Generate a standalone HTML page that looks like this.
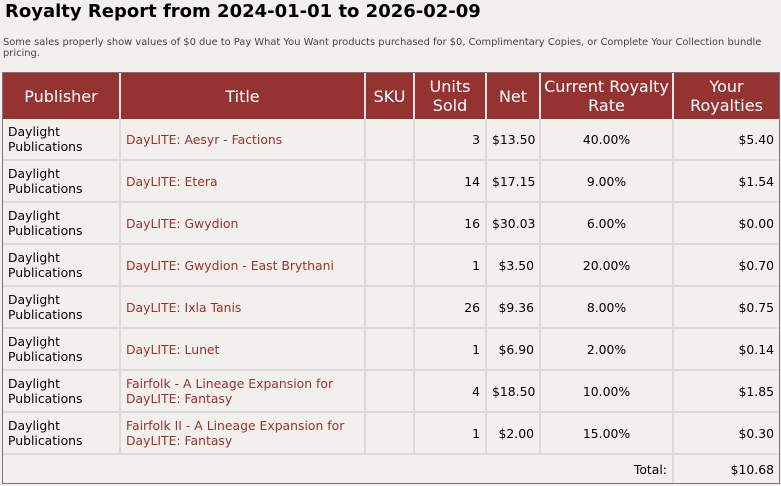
<!DOCTYPE html>
<html><head><meta charset="utf-8"><style>
body{margin:0;background:#f2f0ec;width:781px;height:486px;overflow:hidden;font-family:"DejaVu Sans","Liberation Sans",sans-serif;color:#000}
h1{position:absolute;left:5px;top:0;margin:0;font-size:18px;font-weight:bold;line-height:24px}
.note{position:absolute;left:3px;top:37px;font-size:9.9px;line-height:11px;color:#444;width:780px}
.wrap{position:absolute;left:2px;top:72px;width:776px;height:410px;border:1px solid #777;overflow:hidden}
table{border-collapse:separate;border-spacing:0;table-layout:fixed;width:776px}
td,th{padding:0 5px;border-right:2px solid #dcdad6;border-bottom:2px solid #dcdad6;font-size:12.4px;box-sizing:border-box}
th{background:#953333;color:#fff;font-weight:normal;font-size:16px;line-height:19px;height:46px;border-right:2px solid #e8e4e0;border-bottom:none;text-align:center;padding:0 2px}
td{height:42px;line-height:15px}
td.r{text-align:right}td.c{text-align:center}
td a{color:#9a3030;text-decoration:none}
tr td:last-child,tr th:last-child{border-right:none}
</style></head><body>
<h1>Royalty Report from 2024-01-01 to 2026-02-09</h1>
<div class="note">Some sales properly show values of $0 due to Pay What You Want products purchased for $0, Complimentary Copies, or Complete Your Collection bundle<br>pricing.</div>
<div class="wrap"><table>
<colgroup><col style="width:118px"><col style="width:245px"><col style="width:49px"><col style="width:72px"><col style="width:54px"><col style="width:133px"><col style="width:105px"></colgroup>
<tr><th>Publisher</th><th>Title</th><th>SKU</th><th>Units<br>Sold</th><th>Net</th><th>Current Royalty<br>Rate</th><th>Your<br>Royalties</th></tr>
<tr><td>Daylight<br>Publications</td><td><a>DayLITE: Aesyr - Factions</a></td><td></td><td class="r">3</td><td class="r">$13.50</td><td class="c">40.00%</td><td class="r">$5.40</td></tr>
<tr><td>Daylight<br>Publications</td><td><a>DayLITE: Etera</a></td><td></td><td class="r">14</td><td class="r">$17.15</td><td class="c">9.00%</td><td class="r">$1.54</td></tr>
<tr><td>Daylight<br>Publications</td><td><a>DayLITE: Gwydion</a></td><td></td><td class="r">16</td><td class="r">$30.03</td><td class="c">6.00%</td><td class="r">$0.00</td></tr>
<tr><td>Daylight<br>Publications</td><td><a>DayLITE: Gwydion - East Brythani</a></td><td></td><td class="r">1</td><td class="r">$3.50</td><td class="c">20.00%</td><td class="r">$0.70</td></tr>
<tr><td>Daylight<br>Publications</td><td><a>DayLITE: Ixla Tanis</a></td><td></td><td class="r">26</td><td class="r">$9.36</td><td class="c">8.00%</td><td class="r">$0.75</td></tr>
<tr><td>Daylight<br>Publications</td><td><a>DayLITE: Lunet</a></td><td></td><td class="r">1</td><td class="r">$6.90</td><td class="c">2.00%</td><td class="r">$0.14</td></tr>
<tr><td>Daylight<br>Publications</td><td><a>Fairfolk - A Lineage Expansion for<br>DayLITE: Fantasy</a></td><td></td><td class="r">4</td><td class="r">$18.50</td><td class="c">10.00%</td><td class="r">$1.85</td></tr>
<tr><td>Daylight<br>Publications</td><td><a>Fairfolk II - A Lineage Expansion for<br>DayLITE: Fantasy</a></td><td></td><td class="r">1</td><td class="r">$2.00</td><td class="c">15.00%</td><td class="r">$0.30</td></tr>
<tr><td colspan="6" class="r" style="height:28px;border-bottom:none">Total:</td><td class="r" style="height:28px;border-bottom:none">$10.68</td></tr>
</table></div>
</body></html>
